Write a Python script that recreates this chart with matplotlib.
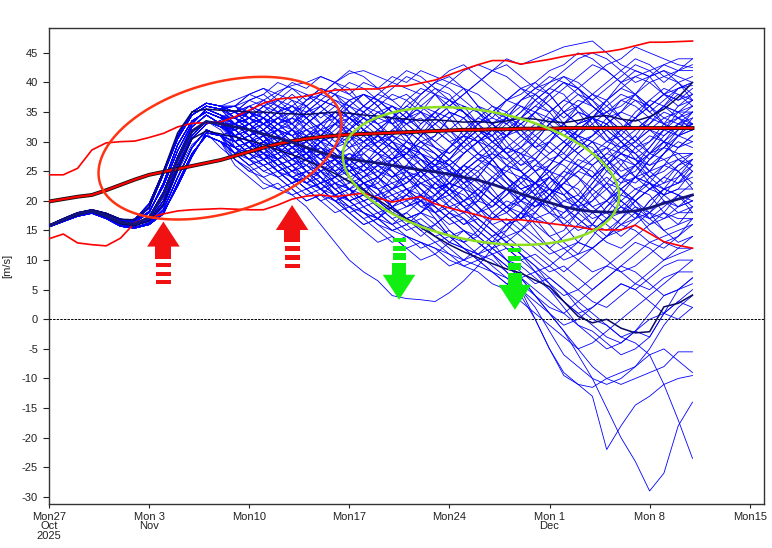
import numpy as np
import pandas as pd
import matplotlib
matplotlib.use("Agg")
import matplotlib.pyplot as plt
import matplotlib.dates as mdates
from matplotlib.patches import Polygon

plt.rcParams['font.family'] = ['Liberation Sans', 'DejaVu Sans']
plt.rcParams['axes.unicode_minus'] = False

# ---- time axis: daily values, Mon 27 Oct 2025 .. Thu 11 Dec 2025
dates = pd.date_range("2025-10-27", periods=46, freq="D")
tick_dates = pd.date_range("2025-10-27", periods=8, freq="7D")
tick_labels = ["Mon27\nOct\n2025", "Mon 3\nNov", "Mon10", "Mon17",
               "Mon24", "Mon 1\nDec", "Mon 8", "Mon15"]
y_ticks = list(range(-30, 50, 5))

# ---- early part of the ensemble (days 0..12), a few typical shapes
E1 = [15.9, 17.0, 18.0, 18.5, 17.9, 16.9, 16.7, 18.8, 24.5, 30.5, 34.5, 36.0, 35.5]
E2 = [15.8, 16.9, 17.9, 18.4, 17.7, 16.6, 16.4, 18.0, 23.0, 29.5, 33.5, 35.0, 34.0]
E3 = [15.8, 16.8, 17.8, 18.3, 17.5, 16.4, 16.1, 17.3, 21.5, 27.5, 32.5, 34.5, 33.0]
E4 = [15.7, 16.7, 17.7, 18.2, 17.3, 16.1, 15.8, 16.8, 20.0, 26.0, 31.0, 33.5, 32.5]
E5 = [15.7, 16.6, 17.5, 18.0, 17.1, 15.8, 15.5, 16.2, 18.5, 24.0, 29.0, 32.0, 31.0]
E6 = [15.9, 16.9, 17.8, 18.3, 17.6, 16.7, 16.9, 19.5, 25.0, 31.0, 35.0, 36.5, 36.0]
E7 = [15.6, 16.5, 17.4, 17.9, 17.0, 15.7, 15.4, 16.0, 17.8, 23.0, 28.0, 31.0, 30.0]
E8 = [15.8, 16.7, 17.6, 18.2, 17.4, 16.2, 15.9, 16.6, 19.2, 25.2, 30.5, 33.0, 33.5]
E9 = [15.9, 16.9, 17.9, 18.4, 17.8, 16.8, 16.6, 18.2, 22.5, 28.5, 33.0, 35.5, 34.5]
E10 = [15.6, 16.6, 17.5, 18.1, 17.3, 16.0, 15.6, 16.0, 18.0, 22.5, 27.5, 31.5, 31.0]

# ---- ensemble members [m/s]
m01 = E1 + [35, 36, 37, 38.5, 39.5, 40, 41, 40, 41.5, 42, 41, 40, 39, 38, 40, 42, 43, 41, 39, 37, 38, 40, 42, 43, 45, 44, 42, 40, 41, 42, 43, 44, 44]
m02 = E6 + [35, 34, 36, 37, 36, 38, 37, 39, 38, 40, 39, 41, 40, 42, 41, 40, 42, 43, 42, 44, 43, 44, 45, 46, 46.5, 47, 45, 43, 42, 41, 42, 41, 40]
m03 = E2 + [34, 35, 33, 35, 36, 34, 36, 38, 37, 35, 37, 39, 41, 40, 38, 36, 38, 40, 42, 41, 39, 37, 35, 37, 39, 41, 43, 44, 46, 45, 44, 43, 42.5]
m04 = E3 + [33, 32, 34, 32, 31, 33, 35, 33, 31, 33, 35, 36, 34, 32, 30, 32, 34, 36, 35, 33, 31, 29, 31, 33, 35, 34, 32, 30, 32, 34, 33, 32, 33]
m05 = E4 + [31, 29, 31, 33, 35, 34, 32, 30, 32, 34, 36, 38, 37, 35, 33, 31, 29, 31, 33, 35, 37, 39, 41, 40, 38, 36, 34, 32, 34, 36, 38, 37, 38]
m06 = E5 + [30, 28, 30, 29, 27, 29, 31, 29, 27, 25, 27, 29, 28, 26, 24, 22, 24, 26, 24, 22, 20, 22, 24, 22, 20, 18, 20, 22, 20, 18, 17, 19, 20]
m07 = E7 + [29, 27, 25, 26, 24, 22, 23, 21, 19, 20, 18, 16, 17, 15, 13, 14, 12, 10, 11, 9, 7, 8, 6, 4, 5, 7, 9, 8, 6, 5, 7, 8, 8]
m08 = [15.7, 16.6, 17.5, 18.0, 17.1, 15.8, 15.5, 16.4, 19.0, 25.0, 29.5, 31.5, 29.0,
       27, 25.5, 23, 22, 21, 19, 16, 13, 10, 8, 6.5, 4, 3.5, 3.3, 3, 4.5, 6.5, 9, 12, 15, 18, 21, 24, 22, 20, 23, 26, 29, 31, 28, 30, 33, 35]
m09 = [15.8, 16.8, 17.8, 18.3, 17.5, 16.3, 16.0, 17.0, 20.5, 26.5, 31.5, 33.5, 32.0,
       29, 27, 28, 26, 24, 25, 23, 21, 22, 20, 18, 19, 17, 18, 16, 14, 15, 13, 11, 9, 7, 4, 1, -2, -6, -10, -15, -20, -24, -29, -26, -18, -14]
m10 = E2 + [32, 30, 31, 29, 30, 28, 26, 27, 25, 23, 24, 22, 20, 21, 19, 17, 15, 13, 11, 8, 5, 0, -5, -9, -11, -13, -22, -18, -14.5, -13, -11, -10, -9.5]
m11 = E1 + [33, 31, 32, 30, 28, 29, 27, 25, 26, 24, 22, 23, 21, 19, 20, 18, 16, 17, 15, 13, 11, 9, 7, 5, 2, 0, -1, -3, -4, -6, -11, -17, -23.5]
m12 = E4 + [31, 32, 30, 31, 29, 27, 28, 26, 24, 25, 23, 21, 22, 20, 18, 19, 17, 15, 13, 10, 7, 4, 1, -2, -5, -8, -10, -11, -10, -9, -8, -5.5, -5.5]
m13 = E7 + [28, 29, 27, 25, 26, 24, 22, 23, 21, 19, 20, 18, 16, 17, 15, 13, 12, 10, 8, 6, 4, 0, -5, -9.5, -11, -11.5, -10, -9, -8, -6, -5, -7, -9]
m14 = E5 + [30, 28, 29, 27, 25, 26, 24, 22, 20, 21, 19, 17, 18, 16, 14, 15, 13, 11, 12, 10, 8, 6, 7, 5, 3, 1, -1, -3, -2, 0, 1, 3, 2]
m15 = E3 + [32, 33, 31, 29, 30, 28, 30, 28, 26, 27, 25, 23, 24, 22, 20, 21, 19, 17, 15, 13, 11, 9, 6, 3, 1, -1, -3, -4, -2, 1, 4, 5, 6]
m16 = E6 + [34, 32, 33, 31, 29, 30, 28, 29, 27, 25, 26, 24, 22, 23, 21, 19, 20, 18, 16, 17, 15, 13, 11, 12, 10, 8, 9, 11, 13, 12, 10, 11, 12]
m17 = E8 + [31, 29, 27, 28, 26, 24, 25, 23, 24, 22, 20, 21, 19, 20, 18, 16, 17, 15, 13, 14, 12, 10, 8, 9, 7, 5, 7, 9, 11, 13, 14, 15, 16]
m18 = E1 + [36, 35, 37, 36, 38, 36, 34, 36, 34, 32, 34, 36, 34, 32, 30, 28, 30, 32, 30, 28, 26, 28, 30, 28, 26, 24, 26, 28, 30, 32, 30, 29, 30]
m19 = E3 + [33, 34, 32, 30, 32, 30, 28, 29, 27, 28, 26, 24, 25, 23, 24, 22, 20, 22, 24, 22, 20, 18, 16, 18, 20, 22, 24, 22, 20, 22, 24, 26, 27]
m20 = E2 + [34, 36, 35, 33, 34, 32, 33, 31, 29, 30, 28, 30, 32, 30, 28, 26, 28, 30, 32, 34, 33, 31, 29, 27, 29, 31, 33, 35, 37, 36, 34, 35, 36]
m21 = E5 + [32, 30, 32, 34, 33, 35, 37, 36, 34, 36, 38, 37, 35, 33, 35, 37, 39, 38, 36, 34, 32, 30, 28, 30, 32, 34, 36, 38, 37, 35, 37, 39, 40]
m22 = E7 + [29, 27, 28, 26, 24, 25, 23, 21, 22, 20, 21, 19, 17, 18, 20, 22, 24, 26, 28, 27, 25, 23, 21, 19, 17, 15, 17, 19, 21, 23, 22, 23, 24]
m23 = E6 + [35, 37, 36, 34, 35, 37, 39, 38, 36, 34, 32, 34, 36, 38, 40, 39, 37, 35, 33, 31, 33, 35, 37, 39, 41, 43, 42, 40, 38, 36, 38, 40, 41]
m24 = E10 + [31, 33, 31, 29, 27, 28, 26, 27, 25, 23, 24, 26, 28, 30, 29, 27, 25, 23, 21, 19, 17, 19, 21, 23, 25, 24, 22, 20, 18, 16, 17, 18, 18]
m25 = E7 + [28, 26, 24, 25, 23, 21, 22, 20, 18, 16, 17, 15, 16, 14, 16, 18, 20, 22, 20, 18, 16, 14, 12, 14, 16, 18, 20, 22, 24, 23, 21, 22, 22]
m26 = E3 + [33, 31, 29, 30, 28, 30, 32, 31, 33, 35, 33, 31, 29, 27, 25, 27, 29, 31, 29, 27, 29, 31, 33, 35, 37, 36, 34, 32, 30, 32, 34, 33, 34]
m27 = E2 + [30, 32, 34, 33, 31, 29, 27, 25, 27, 29, 31, 29, 27, 25, 23, 21, 23, 25, 27, 29, 31, 33, 32, 30, 28, 26, 28, 30, 28, 26, 27, 28, 28]
m28 = E5 + [27, 25, 26, 24, 22, 20, 21, 19, 17, 15, 13, 14, 12, 10, 11, 13, 15, 14, 12, 10, 9, 7, 5, 3, 1, 2, 4, 6, 5, 7, 9, 10, 10]
m29 = E7 + [28, 29, 27, 25, 23, 24, 22, 20, 18, 19, 17, 19, 21, 23, 22, 20, 18, 16, 14, 12, 10, 11, 9, 7, 5, 3, 2, 4, 6, 8, 10, 12, 14]
m30 = E1 + [36, 34, 35, 33, 31, 32, 30, 32, 34, 33, 31, 29, 27, 28, 26, 24, 26, 28, 26, 24, 22, 20, 18, 16, 18, 20, 22, 24, 26, 28, 30, 29, 31]
m31 = E6 + [34, 33, 35, 37, 39, 38, 36, 34, 32, 30, 32, 34, 33, 31, 29, 27, 25, 27, 29, 31, 33, 35, 34, 32, 30, 28, 30, 32, 34, 36, 38, 37, 39]
m32 = E9 + [32, 30, 28, 26, 27, 25, 23, 24, 22, 24, 26, 28, 30, 29, 27, 25, 23, 21, 19, 21, 23, 25, 27, 26, 24, 22, 20, 18, 20, 22, 24, 23, 25]
m33 = E1 + [36, 38, 37, 35, 33, 35, 37, 36, 34, 32, 30, 32, 34, 36, 38, 37, 35, 33, 35, 37, 39, 38, 36, 34, 36, 38, 40, 42, 44, 43, 41, 42, 43]
m34 = E2 + [33, 31, 32, 30, 28, 29, 27, 29, 31, 30, 28, 26, 24, 25, 23, 21, 19, 17, 15, 13, 11, 8, 5, 2, -1, -3, -5, -4, -2, -3, 1, 3, 5]
m35 = E8 + [30, 31, 29, 27, 28, 26, 24, 22, 20, 18, 16, 14, 12, 13, 11, 9, 10, 12, 14, 16, 14, 12, 10, 8, 10, 12, 14, 16, 18, 17, 19, 21, 20]
m36 = E6 + [37, 38, 39, 38, 40, 39, 41, 40, 38, 36, 38, 40, 42, 41, 39, 37, 35, 33, 31, 33, 35, 37, 39, 41, 40, 38, 36, 34, 32, 34, 36, 35, 35]
m37 = E5 + [31, 29, 30, 28, 30, 32, 31, 29, 27, 25, 27, 25, 23, 25, 27, 29, 31, 33, 35, 37, 36, 34, 32, 30, 28, 30, 32, 30, 28, 30, 32, 31, 32]
m38 = E7 + [26, 24, 22, 23, 21, 22, 20, 18, 19, 17, 15, 13, 14, 12, 13, 11, 9, 10, 8, 6, 7, 5, 3, 1, -1, -2, -4, -6, -5, -3, 1, 5, 7]
m39 = E2 + [35, 33, 34, 32, 34, 33, 31, 33, 35, 34, 32, 30, 28, 30, 28, 26, 24, 22, 20, 18, 20, 22, 24, 22, 20, 18, 16, 14, 16, 18, 20, 19, 21]
m40 = E4 + [32, 34, 33, 31, 29, 31, 33, 35, 33, 31, 29, 31, 33, 35, 34, 32, 30, 28, 30, 32, 34, 36, 38, 40, 39, 37, 39, 41, 43, 42, 40, 42, 44]
m41 = E9 + [29, 30, 28, 29, 27, 25, 26, 24, 22, 23, 21, 19, 20, 18, 20, 22, 21, 19, 17, 19, 21, 23, 25, 27, 26, 24, 26, 28, 27, 25, 26, 27, 28]
m42 = E3 + [30, 28, 26, 27, 25, 23, 24, 22, 20, 21, 19, 17, 15, 16, 14, 12, 10, 11, 9, 7, 5, 2, -2, -6, -8, -10, -11, -10, -8, -5, -1, 2, 4]
m43 = E1 + [33, 35, 34, 36, 35, 33, 35, 37, 36, 38, 37, 35, 33, 31, 33, 35, 34, 32, 30, 28, 30, 32, 34, 33, 31, 33, 35, 37, 36, 34, 36, 38, 37]
m44 = E10 + [32, 33, 31, 32, 30, 28, 29, 27, 29, 31, 29, 27, 25, 23, 21, 23, 25, 27, 25, 23, 21, 19, 21, 23, 25, 27, 29, 28, 26, 24, 25, 27, 26]
m45 = E2 + [35, 33, 31, 32, 30, 31, 29, 27, 28, 26, 28, 30, 29, 27, 25, 26, 28, 30, 32, 31, 29, 27, 25, 27, 29, 31, 33, 35, 34, 32, 31, 33, 33]
m46 = E6 + [34, 35, 33, 34, 32, 34, 36, 38, 40, 39, 37, 35, 33, 34, 32, 30, 28, 30, 32, 34, 36, 35, 33, 31, 33, 35, 37, 39, 41, 40, 38, 39, 39.5]
m47 = E8 + [30, 28, 30, 31, 29, 27, 25, 26, 24, 22, 20, 22, 24, 22, 20, 18, 16, 18, 20, 22, 24, 23, 21, 19, 17, 15, 13, 12, 14, 16, 18, 17, 17]
m48 = E1 + [36, 37, 38, 40, 39, 37, 38, 40, 42, 41, 39, 37, 38, 36, 34, 36, 38, 40, 42, 43, 41, 39, 40, 42, 44, 45, 44, 42, 40, 41, 43, 42, 42]
m49 = E9 + [31, 32, 30, 28, 29, 31, 29, 27, 25, 26, 24, 22, 23, 25, 27, 26, 24, 22, 20, 22, 24, 26, 28, 30, 32, 34, 33, 31, 29, 27, 29, 31, 30]
m50 = E10 + [28, 30, 28, 26, 24, 22, 20, 21, 19, 17, 18, 16, 18, 20, 19, 17, 15, 13, 11, 12, 10, 8, 9, 11, 13, 12, 10, 8, 9, 11, 13, 12, 12]
m51 = E4 + [32, 30, 27, 25, 26, 28, 30, 31, 29, 26, 24, 22, 23, 25, 27, 26, 23, 20, 19, 21, 24, 26, 25, 22, 19, 17, 18, 21, 24, 27, 29, 28, 26]
m52 = E2 + [34, 33, 31, 28, 26, 27, 30, 33, 34, 32, 29, 27, 28, 31, 33, 35, 34, 31, 28, 26, 25, 27, 30, 32, 31, 28, 25, 23, 24, 27, 30, 32, 33]
m53 = E6 + [35, 37, 38, 36, 33, 31, 32, 35, 37, 38, 36, 33, 30, 29, 31, 34, 36, 35, 32, 29, 28, 30, 33, 36, 38, 37, 34, 31, 29, 30, 33, 36, 38]
m54 = E8 + [32, 30, 29, 27, 24, 22, 23, 26, 28, 27, 24, 21, 19, 20, 23, 25, 24, 21, 18, 16, 17, 20, 23, 25, 24, 21, 18, 16, 17, 20, 22, 21, 19]
m55 = E3 + [31, 29, 30, 32, 31, 28, 25, 24, 26, 29, 31, 30, 27, 24, 22, 23, 26, 28, 27, 24, 21, 19, 20, 23, 26, 28, 27, 24, 22, 23, 26, 29, 31]
m56 = E9 + [33, 34, 36, 35, 32, 30, 31, 34, 36, 35, 33, 34, 37, 39, 38, 35, 32, 30, 31, 34, 37, 38, 36, 33, 30, 28, 29, 32, 35, 37, 36, 34, 35]
m57 = E5 + [29, 27, 26, 24, 25, 27, 26, 23, 20, 18, 17, 19, 21, 20, 17, 14, 13, 15, 18, 20, 19, 16, 14, 15, 18, 21, 23, 22, 19, 17, 18, 21, 23]
m58 = E1 + [34, 32, 33, 35, 36, 34, 31, 29, 30, 33, 35, 34, 31, 28, 27, 29, 32, 34, 33, 30, 27, 25, 26, 29, 32, 34, 33, 30, 27, 26, 28, 31, 34]
m59 = E10 + [29, 27, 25, 24, 22, 20, 21, 23, 22, 19, 17, 15, 16, 18, 17, 14, 12, 11, 13, 16, 18, 17, 14, 12, 13, 16, 19, 21, 20, 17, 15, 16, 19]
m60 = E7 + [28, 27, 29, 30, 28, 25, 23, 24, 27, 29, 28, 25, 22, 20, 21, 24, 26, 25, 22, 19, 17, 18, 21, 24, 26, 25, 22, 19, 17, 18, 21, 24, 26]
m61 = E4 + [33, 35, 34, 31, 29, 30, 33, 35, 34, 32, 29, 27, 28, 31, 34, 36, 35, 32, 30, 31, 34, 37, 39, 38, 35, 32, 30, 31, 34, 37, 39, 38, 36]
m62 = E2 + [33, 31, 28, 27, 29, 31, 30, 27, 25, 26, 29, 31, 30, 28, 25, 23, 22, 24, 27, 29, 28, 25, 22, 20, 21, 24, 27, 29, 28, 25, 23, 24, 27]
m63 = E6 + [36, 38, 39, 37, 35, 36, 38, 40, 39, 36, 34, 33, 35, 38, 40, 41, 39, 36, 34, 33, 35, 38, 40, 41, 39, 37, 35, 36, 38, 40, 41, 40, 38]
m64 = E3 + [32, 33, 31, 29, 27, 28, 30, 29, 26, 24, 25, 27, 29, 28, 25, 22, 20, 21, 23, 22, 19, 17, 18, 20, 19, 16, 14, 15, 17, 20, 22, 21, 18]
m65 = E8 + [31, 29, 28, 30, 32, 31, 28, 26, 27, 30, 32, 31, 29, 26, 24, 25, 28, 30, 29, 26, 23, 21, 22, 25, 28, 30, 29, 26, 24, 25, 28, 30, 29]
m66 = E9 + [34, 32, 31, 29, 30, 33, 35, 34, 31, 28, 26, 27, 30, 33, 35, 34, 31, 28, 26, 25, 27, 30, 33, 35, 36, 34, 31, 28, 27, 29, 32, 35, 37]
m67 = E5 + [30, 31, 29, 26, 24, 23, 25, 27, 26, 23, 20, 18, 19, 21, 23, 22, 19, 16, 14, 15, 18, 20, 19, 16, 13, 12, 14, 17, 19, 18, 15, 13, 14]
m68 = E1 + [35, 34, 36, 38, 37, 34, 32, 33, 36, 38, 37, 35, 32, 30, 31, 34, 36, 35, 33, 34, 37, 39, 38, 35, 33, 34, 37, 40, 42, 41, 38, 36, 37]
m69 = E10 + [30, 31, 33, 32, 29, 27, 28, 31, 30, 27, 25, 24, 26, 29, 28, 25, 23, 24, 27, 29, 28, 25, 22, 21, 23, 26, 28, 27, 24, 22, 23, 26, 28]
m70 = E7 + [27, 25, 24, 22, 23, 25, 24, 21, 18, 16, 17, 20, 22, 21, 18, 15, 13, 14, 17, 19, 18, 15, 12, 10, 11, 14, 17, 19, 18, 15, 13, 14, 17]
m71 = E2 + [34, 35, 33, 31, 32, 35, 36, 34, 31, 29, 30, 32, 31, 28, 26, 27, 30, 32, 31, 28, 26, 27, 30, 33, 35, 34, 31, 29, 30, 33, 35, 34, 32]
m72 = E4 + [31, 29, 27, 28, 30, 29, 26, 24, 25, 28, 30, 29, 27, 24, 22, 23, 26, 24, 21, 19, 20, 23, 25, 24, 21, 19, 20, 23, 26, 28, 27, 25, 22]
m73 = E6 + [35, 36, 34, 32, 33, 36, 38, 37, 35, 32, 30, 31, 34, 36, 35, 32, 29, 27, 28, 31, 34, 36, 35, 32, 30, 31, 34, 37, 38, 36, 33, 31, 32]
m74 = E3 + [32, 30, 31, 33, 32, 29, 27, 28, 26, 23, 21, 22, 25, 27, 26, 23, 20, 18, 19, 22, 24, 23, 20, 17, 15, 16, 19, 22, 24, 23, 20, 18, 19]
m75 = E9 + [33, 31, 32, 34, 36, 35, 33, 34, 37, 38, 36, 33, 31, 32, 35, 37, 36, 33, 30, 28, 29, 32, 35, 37, 36, 33, 30, 29, 31, 34, 36, 35, 33]
m76 = E5 + [29, 28, 30, 29, 26, 23, 22, 24, 26, 25, 22, 20, 21, 24, 26, 25, 22, 19, 17, 18, 21, 23, 22, 19, 16, 15, 17, 20, 22, 21, 18, 16, 17]
m77 = E1 + [34, 36, 35, 33, 34, 37, 39, 38, 35, 33, 34, 36, 35, 32, 29, 28, 30, 33, 35, 34, 31, 29, 30, 33, 36, 38, 37, 34, 32, 33, 36, 39, 40]
m78 = E8 + [32, 33, 31, 28, 26, 27, 29, 28, 25, 23, 24, 27, 29, 28, 26, 27, 30, 32, 31, 28, 25, 23, 24, 27, 30, 29, 26, 24, 25, 28, 31, 33, 32]
m79 = E10 + [28, 26, 27, 29, 28, 25, 22, 20, 21, 23, 22, 19, 17, 18, 21, 23, 22, 19, 16, 14, 15, 18, 21, 23, 22, 19, 17, 18, 21, 24, 26, 25, 23]
m80 = E7 + [29, 30, 28, 25, 23, 24, 26, 25, 22, 20, 21, 24, 26, 25, 22, 19, 18, 20, 23, 25, 24, 21, 18, 17, 19, 22, 25, 27, 26, 23, 21, 22, 25]
m81 = E2 + [33, 31, 32, 34, 33, 30, 28, 29, 32, 34, 33, 30, 27, 25, 26, 29, 31, 30, 27, 24, 22, 23, 26, 29, 31, 30, 27, 25, 26, 29, 32, 34, 33]
m82 = E6 + [36, 34, 33, 35, 37, 36, 33, 31, 32, 35, 37, 36, 34, 35, 38, 40, 39, 36, 33, 31, 32, 35, 38, 40, 39, 36, 34, 35, 38, 41, 42, 40, 37]
m83 = E4 + [30, 28, 29, 31, 30, 27, 24, 22, 23, 26, 28, 27, 24, 21, 20, 22, 25, 27, 26, 23, 20, 19, 21, 24, 27, 26, 23, 20, 18, 19, 22, 25, 27]
m84 = E9 + [33, 34, 32, 29, 27, 28, 31, 33, 32, 30, 31, 34, 36, 35, 32, 30, 31, 34, 36, 35, 32, 29, 27, 28, 31, 34, 35, 33, 30, 28, 29, 32, 35]
m85 = E3 + [31, 32, 30, 27, 25, 26, 28, 27, 24, 22, 23, 26, 28, 27, 24, 21, 19, 20, 23, 26, 28, 27, 24, 21, 19, 20, 23, 26, 29, 31, 30, 27, 25]
m86 = E5 + [30, 28, 26, 27, 29, 28, 25, 22, 20, 21, 24, 26, 25, 22, 19, 17, 18, 21, 24, 26, 25, 22, 19, 18, 20, 23, 26, 28, 27, 24, 22, 23, 26]
m87 = E1 + [35, 33, 34, 36, 35, 32, 30, 31, 34, 36, 35, 33, 34, 37, 39, 38, 35, 33, 34, 37, 39, 40, 38, 35, 33, 34, 37, 39, 38, 35, 33, 34, 36]
m88 = E8 + [31, 29, 30, 32, 31, 28, 26, 27, 30, 32, 31, 28, 25, 24, 26, 29, 31, 30, 27, 24, 22, 23, 26, 29, 31, 30, 27, 24, 23, 25, 28, 31, 33]
m89 = E10 + [29, 30, 28, 26, 27, 29, 28, 25, 23, 24, 26, 25, 22, 19, 18, 20, 22, 21, 18, 16, 17, 20, 22, 21, 18, 16, 15, 17, 20, 22, 21, 19, 20]
m90 = E7 + [28, 26, 27, 25, 23, 24, 22, 20, 21, 23, 22, 19, 17, 15, 16, 18, 17, 14, 12, 13, 15, 17, 16, 13, 11, 12, 14, 16, 15, 13, 12, 14, 16]
m91 = E4 + [31, 30, 28, 27, 25, 24, 22, 21, 20, 18, 17, 16, 14, 13, 12, 11, 10, 9, 8, 7, 5, 3, 1, -1, 0, 2, 4, 6, 5, 3, 1, 0, 2]
m92 = E9 + [33, 32, 30, 29, 27, 26, 25, 23, 22, 21, 20, 18, 17, 16, 15, 13, 12, 11, 10, 8, 6, 4, 2, 1, 3, 5, 7, 9, 8, 6, 4, 5, 7]
m93 = E5 + [29, 28, 27, 25, 24, 23, 21, 20, 19, 18, 16, 15, 14, 13, 12, 10, 9, 8, 6, 5, 3, 1, -1, -3, -5, -4, -2, 0, 2, 4, 6, 8, 10]

members = [m01, m02, m03, m04, m05, m06, m07, m08, m09, m10,
           m11, m12, m13, m14, m15, m16, m17, m18, m19, m20,
           m21, m22, m23, m24, m25, m26, m27, m28, m29, m30,
           m31, m32, m33, m34, m35, m36, m37, m38, m39, m40,
           m41, m42, m43, m44, m45, m46, m47, m48, m49, m50,
           m51, m52, m53, m54, m55, m56, m57, m58, m59, m60,
           m61, m62, m63, m64, m65, m66, m67, m68, m69, m70,
           m71, m72, m73, m74, m75, m76, m77, m78, m79, m80,
           m81, m82, m83, m84, m85, m86, m87, m88, m89, m90,
           m91, m92, m93]

# ---- highlighted runs (dark lines)
ens_mean = [15.8, 16.8, 17.8, 18.3, 17.5, 16.4, 16.1, 17.2, 21.0, 27.0, 31.8, 33.4, 33.0,
            32.5, 32, 31.3, 30.6, 29.9, 29, 28.2, 27.5, 27.1, 26.7, 26.4, 26, 25.6, 25.2, 24.9, 24.5, 24,
            23.5, 22.8, 22, 21.2, 20.4, 19.7, 19, 18.5, 18.2, 18.1, 18.1, 18.3, 18.8, 19.6, 20.3, 21]
run_high = [15.9, 17.0, 18.0, 18.5, 17.9, 16.9, 16.8, 19.0, 25.0, 31.5, 35.0, 35.5, 35.3,
            35.2, 35, 35, 34.8, 34.7, 34.6, 34.8, 35, 34.8, 34.5, 34.3, 34, 33.8, 33.6, 33.7, 33.5, 33.3,
            33.4, 33.2, 33.5, 34, 33.8, 33.4, 33.2, 33.6, 34.2, 34.4, 33.8, 33.5, 34.2, 35.5, 37.5, 40]
run_low = [15.7, 16.7, 17.6, 18.2, 17.3, 16.1, 15.8, 16.6, 19.5, 25.5, 30.5, 31.8, 31.3,
           30.8, 30.2, 29.5, 28.6, 27.8, 26.8, 25.8, 24.6, 23.3, 21.8, 20.2, 18.6, 17, 15.5, 14, 12.6, 11.4,
           10.4, 9.4, 8.5, 7.8, 6.6, 5.5, 3, 0.5, -0.6, 0, -1.5, -2.3, -2.1, 2.1, 2.7, 4.1]

# ---- model climate (red)
clim_mean = [19.9, 20.3, 20.7, 21, 21.8, 22.7, 23.6, 24.4, 24.9, 25.4, 25.9, 26.4, 26.9, 27.6, 28.3,
             29, 29.6, 30.1, 30.5, 30.8, 31, 31.2, 31.3, 31.4, 31.5, 31.6, 31.7, 31.8, 31.9, 32, 32,
             32.1, 32.1, 32.2, 32.2, 32.2, 32.3, 32.3, 32.3, 32.3, 32.3, 32.3, 32.3, 32.3, 32.3, 32.3]
clim_upper = [24.4, 24.4, 25.5, 28.6, 29.8, 30, 30.1, 30.7, 31.4, 32.5, 33.1, 33.2, 33.3, 34.2, 35.3,
              36.5, 37.2, 37.4, 37.7, 38.3, 38.7, 38.8, 38.9, 38.9, 39.4, 39.4, 39.9, 40.4, 41.3, 42.2, 43,
              43.7, 43.7, 43.1, 43.5, 43.9, 44.4, 44.8, 45, 45.2, 45.6, 46.2, 46.8, 46.8, 46.9, 47]
clim_lower = [13.6, 14.4, 12.9, 12.6, 12.4, 13.7, 16.3, 17.2, 17.8, 18.3, 18.5, 18.6, 18.7, 18.6, 18.5,
              18.5, 19.3, 20.3, 20.8, 21, 20.7, 21, 21.3, 20.5, 19.8, 20.3, 20.7, 19.5, 18.8, 18.2, 17.6,
              16.9, 16.8, 16.8, 16.5, 16.2, 15.9, 15.6, 15.2, 15.1, 15.1, 15.9, 14.5, 13.1, 12.5, 12]

# ---- hand-drawn annotations: (date, value) anchors, sizes in pixels
red_ellipse = ("2025-11-07 23:00", 28.9, 125, 65, 16)
green_ellipse = ("2025-11-26 05:00", 24.2, 140, 65, -10.6)
red_arrows = [("2025-11-04", 16.5), ("2025-11-13", 19.3)]
green_arrows = [("2025-11-20 11:30", 3.3), ("2025-11-28 14:00", 1.6)]

fig = plt.figure(figsize=(7.72, 5.48), dpi=100)
ax = fig.add_axes([49 / 772, 44 / 548, 715 / 772, 476 / 548])

x = mdates.date2num(dates)
for m in members:
    ax.plot(x, m, color='#0000ff', lw=0.6, zorder=2)

ax.axhline(0, color='black', lw=0.7, ls=(0, (2.5, 1.2)), zorder=3)

ax.plot(x, clim_upper, color='#ff0000', lw=1.2, zorder=4)
ax.plot(x, clim_lower, color='#ff0000', lw=1.2, zorder=4)
ax.plot(x, clim_mean, color='#111111', lw=2.8, zorder=4)
ax.plot(x, clim_mean, color='#ff0000', lw=1.6, zorder=4)

ax.plot(x, run_high, color='#0a0a60', lw=1.1, zorder=5)
ax.plot(x, run_low, color='#0a0a60', lw=1.1, zorder=5)
ax.plot(x, ens_mean, color='#14147a', lw=2.0, zorder=5)

x0 = mdates.date2num(pd.Timestamp("2025-10-27"))
x1 = mdates.date2num(pd.Timestamp("2025-12-16"))
ax.set_xlim(x0, x1)
ax.set_ylim(-31.2, 49.2)

# pixel -> data scale factors
px_day = ax.bbox.width / (x1 - x0)
px_val = ax.bbox.height / (49.2 + 31.2)


def draw_ellipse(spec, color):
    d, v, a, b, ang = spec
    cx = mdates.date2num(pd.Timestamp(d))
    t = np.linspace(0, 2 * np.pi, 300)
    th = np.radians(ang)
    dx = a * np.cos(t) * np.cos(th) - b * np.sin(t) * np.sin(th)
    dy = a * np.cos(t) * np.sin(th) + b * np.sin(t) * np.cos(th)
    ax.plot(cx + dx / px_day, v + dy / px_val, color=color, lw=1.8, zorder=6)


def block_arrow(d, v, up, color, stem, dashes):
    cx = mdates.date2num(pd.Timestamp(d))
    s = -1 if up else 1

    def poly(pts):
        xy = [(cx + px / px_day, v + s * py / px_val) for px, py in pts]
        ax.add_patch(Polygon(xy, closed=True, facecolor=color, edgecolor='none', zorder=7))

    poly([(0, 0), (-16.3, 25), (16.3, 25)])
    poly([(-stem, 24.5), (stem, 24.5), (stem, 37), (-stem, 37)])
    for a, b in dashes:
        poly([(-stem + 0.5, a), (stem - 0.5, a), (stem - 0.5, b), (-stem + 0.5, b)])


draw_ellipse(red_ellipse, '#ff3311')
draw_ellipse(green_ellipse, '#8ee01e')
for d, v in red_arrows:
    block_arrow(d, v, True, '#f01212', 8, [(41, 45.5), (50, 54.5), (58.5, 62.5)])
for d, v in green_arrows:
    block_arrow(d, v, False, '#11ee11', 7, [(39.5, 46.5), (49, 53.5), (58, 61.5)])

ax.set_xticks(mdates.date2num(tick_dates))
ax.set_xticklabels(tick_labels, linespacing=0.95)
ax.set_yticks(y_ticks)
ax.set_yticklabels([str(v) for v in y_ticks])
ax.tick_params(axis='y', direction='out', length=4.5, width=0.8, pad=3.5,
               labelsize=8, colors='#222222')
ax.tick_params(axis='x', direction='out', length=3, width=0.8, pad=2.5,
               labelsize=8, colors='#222222')
for sp in ax.spines.values():
    sp.set_color('#333333')
    sp.set_linewidth(1.0)

ax.set_ylabel("[m/s]", fontsize=8, color='#222222')
ax.yaxis.set_label_coords(-0.052, 0.5)

fig.savefig("out.png", dpi=100)
